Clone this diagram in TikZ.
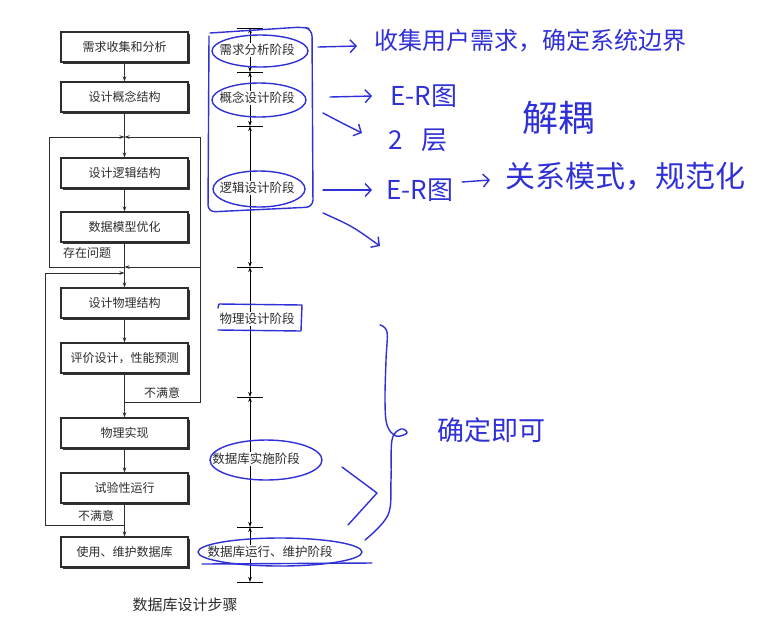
\documentclass[tikz,border=0pt]{standalone}
\usepackage{fontspec}
\setmainfont{Noto Sans CJK SC}
\usetikzlibrary{arrows.meta}
\definecolor{ink}{RGB}{45,45,45}
\definecolor{pen}{RGB}{48,48,215}
\begin{document}
\begin{tikzpicture}[x=1pt,y=-1pt,
  stepbox/.style={draw=ink,line width=1.1pt,fill=white,minimum width=127pt,minimum height=30pt,inner sep=0pt,
    font=\fontsize{12}{14}\selectfont,text=ink,
    preaction={fill=black!80,transform canvas={xshift=1.8pt,yshift=-1.8pt}}},
  flow/.style={draw=ink,line width=0.8pt,-{Stealth[length=5pt,width=3.5pt]}},
  wire/.style={draw=ink,line width=0.8pt},
  note/.style={text=ink,inner sep=0pt,font=\fontsize{12}{14}\selectfont},
  stage/.style={fill=white,inner sep=1pt,text=ink,font=\fontsize{12.5}{14}\selectfont},
  dim/.style={draw=black,line width=0.9pt,{Stealth[length=5pt,width=3.5pt]}-{Stealth[length=5pt,width=3.5pt]}},
  tickbar/.style={draw=black,line width=1pt},
  pen/.style={draw=pen,line width=1.4pt,line cap=round,line join=round},
  penarrow/.style={pen,-{Straight Barb[length=6pt,width=13pt]}},
  hand/.style={text=pen,inner sep=0pt},
]
\useasboundingbox[fill=white] (0,0) rectangle (770,622);

% ---------------- flow chart ----------------
\node[stepbox] (b1) at (124.5,47)  {需求收集和分析};
\node[stepbox] (b2) at (124.5,97)  {设计概念结构};
\node[stepbox] (b3) at (124.5,173) {设计逻辑结构};
\node[stepbox] (b4) at (124.5,227) {数据模型优化};
\node[stepbox] (b5) at (124.5,303) {设计物理结构};
\node[stepbox] (b6) at (124.5,358) {评价设计，性能预测};
\node[stepbox] (b7) at (124.5,433) {物理实现};
\node[stepbox] (b8) at (124.5,488) {试验性运行};
\node[stepbox] (b9) at (124.5,552) {使用、维护数据库};

\draw[flow] (b1) -- (b2);
\draw[flow] (b2) -- (b3);
\draw[flow] (b3) -- (b4);
\draw[flow] (b4) -- (b5);
\draw[flow] (b5) -- (b6);
\draw[flow] (b6) -- (b7);
\draw[flow] (b7) -- (b8);
\draw[flow] (b8) -- (b9);

\coordinate (j1) at (124.5,137);
\coordinate (j2) at (124.5,267);
\coordinate (j3) at (124.5,273);
\coordinate (j4) at (124.5,402);
\coordinate (j5) at (124.5,525);
\coordinate (lt) at (49,137);
\coordinate (lb) at (49,267);
\coordinate (rt) at (200,137);
\coordinate (rm) at (200,267);
\coordinate (rb) at (200,402);
\coordinate (qt) at (45,273);
\coordinate (qb) at (45,525);

\draw[wire] (j2) -- (lb) -- (lt);
\draw[flow] (lt) -- (j1);
\draw[wire] (j4) -- (rb) -- (rt);
\draw[flow] (rt) -- (j1);
\draw[flow] (rm) -- (j2);
\draw[wire] (j5) -- (qb) -- (qt);
\draw[flow] (qt) -- (j3);

\node[note] (n1) at (87,253) {存在问题};
\node[note] (n2) at (162,393) {不满意};
\node[note] (n3) at (96,516) {不满意};
\node[text=ink,inner sep=0pt,font=\fontsize{15}{17}\selectfont] (cap) at (185,605) {数据库设计步骤};

% ---------------- time line ----------------
\coordinate (t0) at (250,28);
\coordinate (t1) at (250,72);
\coordinate (t2) at (250,126);
\coordinate (t3) at (250,267);
\coordinate (t4) at (250,397);
\coordinate (t5) at (250,527);
\coordinate (t6) at (250,582);
\draw[dim] (t0) -- (t1);
\draw[dim] (t1) -- (t2);
\draw[dim] (t2) -- (t3);
\draw[dim] (t3) -- (t4);
\draw[dim] (t4) -- (t5);
\draw[dim] (t5) -- (t6);
\foreach \t in {t0,t1,t2,t3,t4,t5,t6}
  \draw[tickbar] ([xshift=-13pt]\t) -- ([xshift=13pt]\t);

\node[stage] (s1) at (257,50)  {需求分析阶段};
\node[stage] (s2) at (257,98)  {概念设计阶段};
\node[stage] (s3) at (257,188) {逻辑设计阶段};
\node[stage] (s4) at (257,319) {物理设计阶段};
\node[stage] (s5) at (256,459) {数据库实施阶段};
\node[stage] (s6) at (270,552) {数据库运行、维护阶段};

% ---------------- blue annotations ----------------
\draw[pen,rounded corners=7pt] (210,33) -- (302,27) -- (312,29) -- (313,207) -- (208,212) -- (209,36);
\draw[pen] (260,51) ellipse [x radius=48pt, y radius=16pt];
\draw[pen] (259,100) ellipse [x radius=47pt, y radius=17pt];
\draw[pen] (259,189) ellipse [x radius=46pt, y radius=18pt];
\draw[pen] (218,308) -- (219,304) -- (302,305) -- (301,331) -- (218,330);
\draw[pen] (266,460) ellipse [x radius=56pt, y radius=20pt];
\draw[pen] (280,552) ellipse [x radius=82pt, y radius=14pt];
\draw[pen] (202,564) -- (372,563);

\coordinate (a1s) at (318,47);  \coordinate (a1e) at (357,46);
\coordinate (a2s) at (330,97);  \coordinate (a2e) at (372,96);
\coordinate (a3s) at (323,113); \coordinate (a3e) at (362,133);
\coordinate (a4s) at (323,190); \coordinate (a4e) at (372,190);
\coordinate (a5s) at (462,182); \coordinate (a5e) at (490,180);
\coordinate (a6s) at (323,213); \coordinate (a6e) at (380,246);
\draw[penarrow] (a1s) -- (a1e);
\draw[penarrow] (a2s) -- (a2e);
\draw[penarrow] (a3s) .. controls (340,122) .. (a3e);
\draw[penarrow] (a4s) -- (a4e);
\draw[penarrow] (a5s) -- (a5e);
\draw[penarrow] (a6s) .. controls (352,226) .. (a6e);

\node[hand,font=\fontsize{24}{26}\selectfont] (h1) at (530,41) {收集用户需求，确定系统边界};
\node[hand,font=\fontsize{26}{28}\selectfont] (h2) at (424,96) {E-R图};
\node[hand,font=\fontsize{26}{28}\selectfont] (h3) at (418,140) {2\hspace{18pt}层};
\node[hand,font=\fontsize{36}{38}\selectfont] (h4) at (558,118) {解耦};
\node[hand,font=\fontsize{26}{28}\selectfont] (h5) at (420,190) {E-R图};
\node[hand,font=\fontsize{30}{32}\selectfont] (h6) at (625,176) {关系模式，规范化};
\node[hand,font=\fontsize{27}{29}\selectfont] (h7) at (491,430) {确定即可};

\draw[pen] plot[smooth,tension=0.6] coordinates {(380,325) (387,332) (386,360) (385,400) (387,425) (396,436) (407,433) (401,429) (392,440) (391,480) (388,515) (365,540)};
\draw[pen] (342,467) -- (377,493) -- (348,525);
\end{tikzpicture}
\end{document}
